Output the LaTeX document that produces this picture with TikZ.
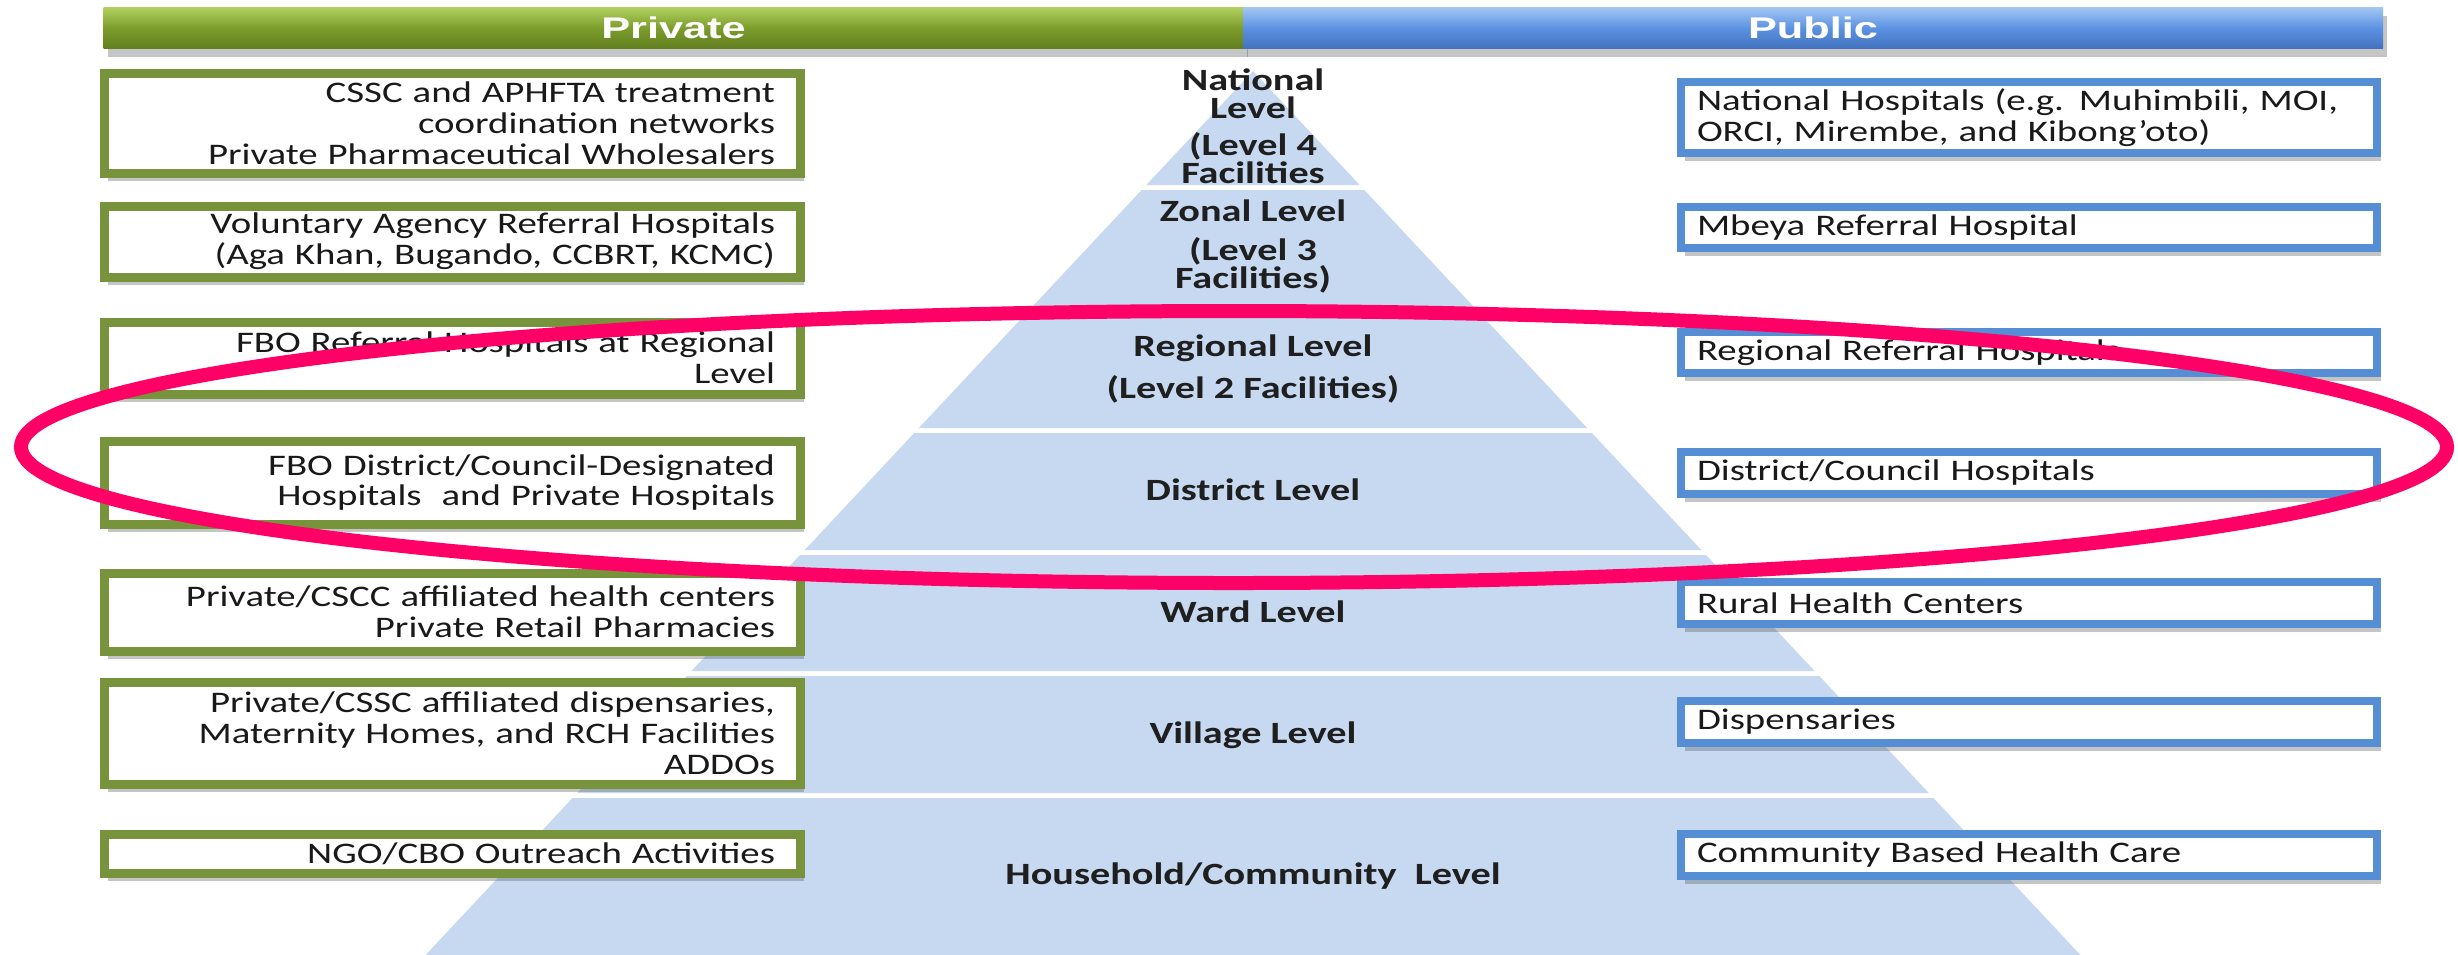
\documentclass[tikz,border=0pt]{standalone}
\usepackage{fontspec}
\setmainfont{Carlito}[FakeStretch=1.3]
\newfontfamily\headfont{Liberation Sans}[FakeStretch=1.45]
\usetikzlibrary{shadows}
\definecolor{boxgreen}{RGB}{119,147,60}
\definecolor{boxblue}{RGB}{85,142,213}
\definecolor{tierblue}{RGB}{198,217,241}
\definecolor{ringpink}{RGB}{255,0,102}
\definecolor{hgtop}{RGB}{176,208,96}
\definecolor{hgmid}{RGB}{124,157,44}
\definecolor{hgbot}{RGB}{98,126,32}
\definecolor{hbtop}{RGB}{162,198,242}
\definecolor{hbmid}{RGB}{92,146,226}
\definecolor{hbbot}{RGB}{66,114,190}
\tikzset{
  boxshadow/.style={drop shadow={shadow xshift=0.4mm,shadow yshift=-0.8mm,opacity=0.35,fill=black!65}},
  lbox/.style={draw=boxgreen,line width=0.9mm,fill=white,boxshadow,minimum width=69.6mm,minimum height=#1,
    text width=64.6mm,inner xsep=2.5mm,inner ysep=0pt,align=right,text=black!90,font=\fontsize{8.5}{8.8}\selectfont},
  rbox/.style={draw=boxblue,line width=0.75mm,fill=white,boxshadow,minimum width=69.6mm,minimum height=#1,
    text width=66.4mm,inner xsep=1.6mm,inner ysep=0pt,align=left,text=black!90,font=\fontsize{8.5}{8.8}\selectfont},
  hbar/.style={minimum width=114mm,minimum height=4.1mm,inner sep=0pt,boxshadow,text=white,
    font=\headfont\fontsize{8.5}{9}\selectfont\bfseries},
  tier/.style={fill=tierblue},
  lvl/.style={align=center,text=black!88,font=\fontsize{8.8}{8}\selectfont\bfseries},
  ring/.style={draw=ringpink,line width=1.4mm}
}
\begin{document}
\begin{tikzpicture}[x=0.1mm,y=-0.1mm]
\useasboundingbox (0,0) rectangle (2458,954);
\foreach \a/\b in {71/185,190/307,312/428,433/550,555/671,676/793,798/960}
\fill[tier] ({1253-0.936*(\a-71)},\a) -- ({1253+0.936*(\a-71)},\a) -- ({1253+0.936*(\b-71)},\b) -- ({1253-0.936*(\b-71)},\b) -- cycle;
\node[hbar,top color=hgtop,bottom color=hgbot,middle color=hgmid] (priv) at (673.5,28) {Private};
\node[hbar,top color=hbtop,bottom color=hbbot,middle color=hbmid] (publ) at (1813,28) {Public};
\node[lvl] (nat) at (1253,126.5) {National\\Level\\[2.5pt](Level 4\\Facilities};
\node[lvl] (zon) at (1253,246.5) {Zonal Level\\[3.3pt](Level 3\\Facilities)};
\node[lvl] (reg) at (1253,369) {Regional Level\\[2.8pt](Level 2 Facilities)};
\node[lvl] (dis) at (1253,490) {District Level};
\node[lvl] (war) at (1253,612) {Ward Level};
\node[lvl] (vil) at (1253,735) {Village Level};
\node[lvl] (hou) at (1253,876) {Household/Community~~Level};
\node[lbox=10mm] (pv1) at (452,123) {CSSC and APHFTA treatment\\coordination networks\\Private Pharmaceutical Wholesalers};
\node[lbox=7.1mm] (pv2) at (452,241.5) {Voluntary Agency Referral Hospitals\\(Aga Khan, Bugando, CCBRT, KCMC)};
\node[lbox=7.2mm] (pv3) at (452,358) {FBO Referral Hospitals at Regional\\Level};
\node[lbox=8.3mm] (pv4) at (452,482.5) {FBO District/Council-Designated\\Hospitals~~and Private Hospitals};
\node[lbox=7.8mm] (pv5) at (452,612) {Private/CSCC affiliated health centers\\Private Retail Pharmacies};
\node[lbox=10.2mm] (pv6) at (452,733) {Private/CSSC affiliated dispensaries,\\Maternity Homes, and RCH Facilities\\ADDOs};
\node[lbox=3.9mm] (pv7) at (452,853.5) {NGO/CBO Outreach Activities};
\node[rbox=7.1mm] (pb1) at (2029,117.5) {National Hospitals (e.g. Muhimbili, MOI,\\ORCI, Mirembe, and Kibong’oto)};
\node[rbox=4.1mm] (pb2) at (2029,227.5) {Mbeya Referral Hospital};
\node[rbox=4.1mm] (pb3) at (2029,352.5) {Regional Referral Hospitals};
\node[rbox=4.2mm] (pb4) at (2029,473) {District/Council Hospitals};
\node[rbox=4.2mm] (pb5) at (2029,603) {Rural Health Centers};
\node[rbox=4.2mm] (pb6) at (2029,722) {Dispensaries};
\node[rbox=4.2mm] (pb7) at (2029,855) {Community Based Health Care};
\draw[ring] (1234,447) ellipse [x radius=1213,y radius=136];
\end{tikzpicture}
\end{document}
